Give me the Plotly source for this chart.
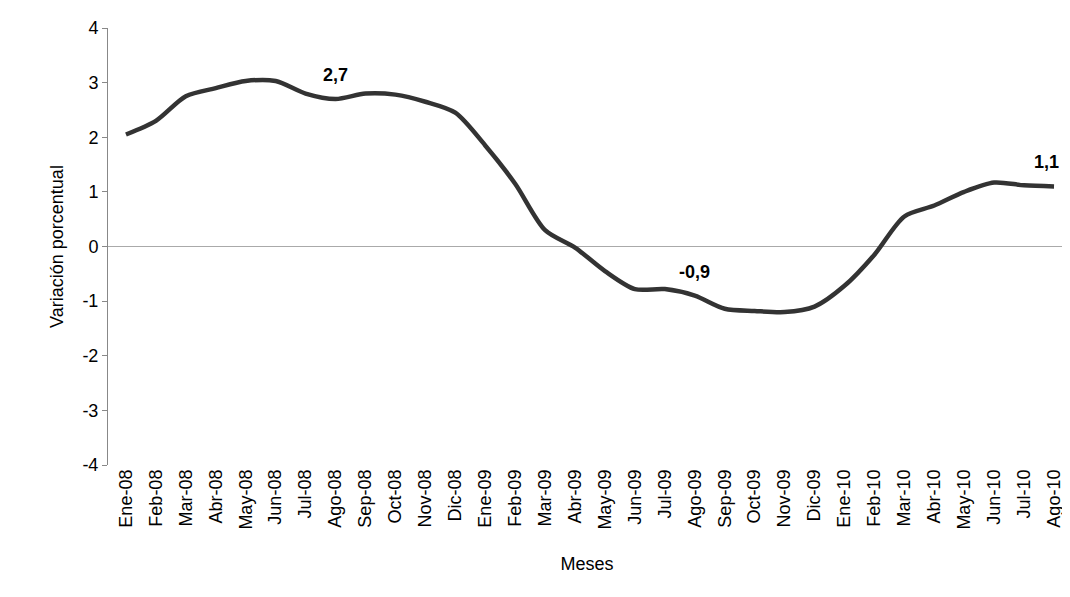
import plotly.graph_objects as go

meses = ["Ene-08", "Feb-08", "Mar-08", "Abr-08", "May-08", "Jun-08", "Jul-08", "Ago-08",
         "Sep-08", "Oct-08", "Nov-08", "Dic-08", "Ene-09", "Feb-09", "Mar-09", "Abr-09",
         "May-09", "Jun-09", "Jul-09", "Ago-09", "Sep-09", "Oct-09", "Nov-09", "Dic-09",
         "Ene-10", "Feb-10", "Mar-10", "Abr-10", "May-10", "Jun-10", "Jul-10", "Ago-10"]
variacion = [2.05, 2.3, 2.75, 2.9, 3.03, 3.03, 2.8, 2.7, 2.8, 2.78, 2.65, 2.45,
             1.85, 1.15, 0.3, -0.02, -0.45, -0.78, -0.78, -0.9, -1.14, -1.18, -1.2, -1.1,
             -0.72, -0.15, 0.55, 0.75, 1.0, 1.17, 1.12, 1.1]
etiquetas = {"Ago-08": "2,7", "Ago-09": "-0,9", "Ago-10": "1,1"}
y_ticks = [-4, -3, -2, -1, 0, 1, 2, 3, 4]

fig = go.Figure()
fig.add_trace(go.Scatter(x=meses, y=variacion, mode="lines",
                         line=dict(color="#333333", width=4.5, shape="spline", smoothing=0.8)))

for m, txt in etiquetas.items():
    fig.add_annotation(x=m, y=variacion[meses.index(m)], text="<b>" + txt + "</b>",
                       showarrow=False, yshift=24, xshift=-8 if m == "Ago-10" else 0,
                       font=dict(family="Liberation Sans, Arial", size=18, color="black"))

tf = dict(family="Liberation Sans, Arial", size=18, color="black")
fig.update_layout(
    width=1070, height=597, plot_bgcolor="white", paper_bgcolor="white",
    showlegend=False,
    font=tf,
    margin=dict(l=100, r=12, t=20, b=140),
    xaxis=dict(title=dict(text="Meses", standoff=28, font=tf), tickfont=tf, tickangle=-90,
               showgrid=False, showline=False, ticks="", range=[-0.6, 31.4],
               automargin=False),
    yaxis=dict(title=dict(text="Variación porcentual", standoff=14, font=tf), tickfont=tf,
               range=[-4, 4], tickvals=y_ticks, ticktext=[str(v) for v in y_ticks],
               showgrid=False, showline=True, linecolor="#888888", ticks="outside",
               ticklen=5, tickcolor="#888888", zeroline=True, zerolinecolor="#aaaaaa",
               zerolinewidth=1, automargin=False),
)
fig.write_html("out.html")
